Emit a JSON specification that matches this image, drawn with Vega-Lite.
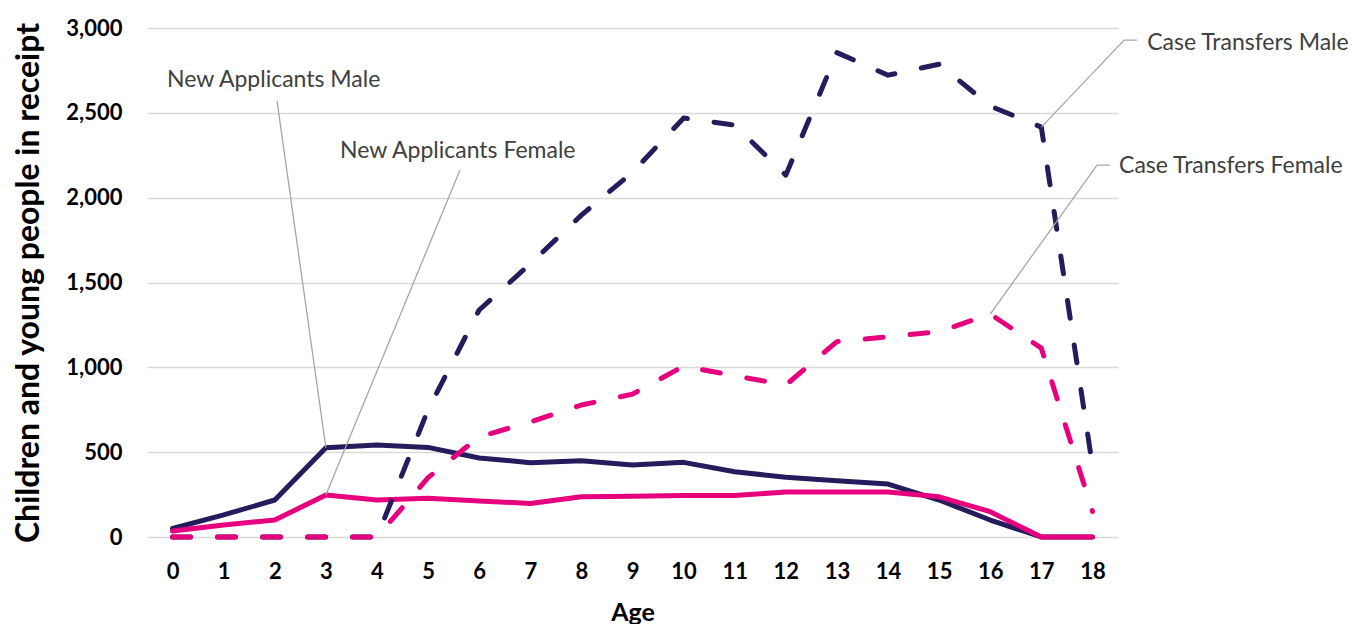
{
  "$schema": "https://vega.github.io/schema/vega-lite/v6.json",
  "autosize": "none",
  "width": 971,
  "height": 509,
  "padding": {"left": 147, "top": 28, "right": 234, "bottom": 87},
  "background": "white",
  "config": {
    "view": {"stroke": null},
    "font": "Lato"
  },
  "datasets": {
    "series": [
      {"age": 0, "series": "New Applicants Male", "value": 50},
      {"age": 1, "series": "New Applicants Male", "value": 130},
      {"age": 2, "series": "New Applicants Male", "value": 218},
      {"age": 3, "series": "New Applicants Male", "value": 526},
      {"age": 4, "series": "New Applicants Male", "value": 542},
      {"age": 5, "series": "New Applicants Male", "value": 528},
      {"age": 6, "series": "New Applicants Male", "value": 466},
      {"age": 7, "series": "New Applicants Male", "value": 438},
      {"age": 8, "series": "New Applicants Male", "value": 450},
      {"age": 9, "series": "New Applicants Male", "value": 424},
      {"age": 10, "series": "New Applicants Male", "value": 440},
      {"age": 11, "series": "New Applicants Male", "value": 385},
      {"age": 12, "series": "New Applicants Male", "value": 352},
      {"age": 13, "series": "New Applicants Male", "value": 332},
      {"age": 14, "series": "New Applicants Male", "value": 312},
      {"age": 15, "series": "New Applicants Male", "value": 218},
      {"age": 16, "series": "New Applicants Male", "value": 100},
      {"age": 17, "series": "New Applicants Male", "value": 0},
      {"age": 18, "series": "New Applicants Male", "value": 0},
      {"age": 0, "series": "New Applicants Female", "value": 35},
      {"age": 1, "series": "New Applicants Female", "value": 71},
      {"age": 2, "series": "New Applicants Female", "value": 100},
      {"age": 3, "series": "New Applicants Female", "value": 247},
      {"age": 4, "series": "New Applicants Female", "value": 218},
      {"age": 5, "series": "New Applicants Female", "value": 228},
      {"age": 6, "series": "New Applicants Female", "value": 212},
      {"age": 7, "series": "New Applicants Female", "value": 198},
      {"age": 8, "series": "New Applicants Female", "value": 237},
      {"age": 9, "series": "New Applicants Female", "value": 240},
      {"age": 10, "series": "New Applicants Female", "value": 245},
      {"age": 11, "series": "New Applicants Female", "value": 245},
      {"age": 12, "series": "New Applicants Female", "value": 265},
      {"age": 13, "series": "New Applicants Female", "value": 265},
      {"age": 14, "series": "New Applicants Female", "value": 265},
      {"age": 15, "series": "New Applicants Female", "value": 237},
      {"age": 16, "series": "New Applicants Female", "value": 149},
      {"age": 17, "series": "New Applicants Female", "value": 0},
      {"age": 18, "series": "New Applicants Female", "value": 0},
      {"age": 0, "series": "Case Transfers Male", "value": 0},
      {"age": 1, "series": "Case Transfers Male", "value": 0},
      {"age": 2, "series": "Case Transfers Male", "value": 0},
      {"age": 3, "series": "Case Transfers Male", "value": 0},
      {"age": 4, "series": "Case Transfers Male", "value": 0},
      {"age": 5, "series": "Case Transfers Male", "value": 750},
      {"age": 6, "series": "Case Transfers Male", "value": 1338},
      {"age": 7, "series": "Case Transfers Male", "value": 1610},
      {"age": 8, "series": "Case Transfers Male", "value": 1897},
      {"age": 9, "series": "Case Transfers Male", "value": 2150},
      {"age": 10, "series": "Case Transfers Male", "value": 2469},
      {"age": 11, "series": "Case Transfers Male", "value": 2428},
      {"age": 12, "series": "Case Transfers Male", "value": 2133},
      {"age": 13, "series": "Case Transfers Male", "value": 2855},
      {"age": 14, "series": "Case Transfers Male", "value": 2722},
      {"age": 15, "series": "Case Transfers Male", "value": 2787},
      {"age": 16, "series": "Case Transfers Male", "value": 2540},
      {"age": 17, "series": "Case Transfers Male", "value": 2416},
      {"age": 18, "series": "Case Transfers Male", "value": 420},
      {"age": 0, "series": "Case Transfers Female", "value": 0},
      {"age": 1, "series": "Case Transfers Female", "value": 0},
      {"age": 2, "series": "Case Transfers Female", "value": 0},
      {"age": 3, "series": "Case Transfers Female", "value": 0},
      {"age": 4, "series": "Case Transfers Female", "value": 0},
      {"age": 5, "series": "Case Transfers Female", "value": 350},
      {"age": 6, "series": "Case Transfers Female", "value": 590},
      {"age": 7, "series": "Case Transfers Female", "value": 678},
      {"age": 8, "series": "Case Transfers Female", "value": 778},
      {"age": 9, "series": "Case Transfers Female", "value": 842},
      {"age": 10, "series": "Case Transfers Female", "value": 1007},
      {"age": 11, "series": "Case Transfers Female", "value": 950},
      {"age": 12, "series": "Case Transfers Female", "value": 896},
      {"age": 13, "series": "Case Transfers Female", "value": 1151},
      {"age": 14, "series": "Case Transfers Female", "value": 1180},
      {"age": 15, "series": "Case Transfers Female", "value": 1210},
      {"age": 16, "series": "Case Transfers Female", "value": 1314},
      {"age": 17, "series": "Case Transfers Female", "value": 1113},
      {"age": 18, "series": "Case Transfers Female", "value": 150}
    ],
    "leaders": [
      {"id": "NAM", "ord": 0, "x": 2.044, "y": 2570},
      {"id": "NAM", "ord": 1, "x": 3, "y": 526},
      {"id": "NAF", "ord": 0, "x": 5.625, "y": 2163},
      {"id": "NAF", "ord": 1, "x": 3, "y": 247},
      {"id": "CTM", "ord": 0, "x": 17, "y": 2416},
      {"id": "CTM", "ord": 1, "x": 18.62, "y": 2929},
      {"id": "CTM", "ord": 2, "x": 18.87, "y": 2929},
      {"id": "CTF", "ord": 0, "x": 16, "y": 1314},
      {"id": "CTF", "ord": 1, "x": 18.09, "y": 2192},
      {"id": "CTF", "ord": 2, "x": 18.34, "y": 2192}
    ],
    "labels": [
      {"label": "New Applicants Male", "x": -0.109, "y": 2693},
      {"label": "New Applicants Female", "x": 3.277, "y": 2275},
      {"label": "Case Transfers Male", "x": 19.07, "y": 2912},
      {"label": "Case Transfers Female", "x": 18.52, "y": 2187}
    ]
  },
  "layer": [
    {
      "data": {"name": "series"},
      "transform": [{"filter": "datum.series === 'New Applicants Male'"}],
      "mark": {"type": "line", "color": "#241c5c", "strokeWidth": 5, "strokeJoin": "round", "strokeCap": "round"},
      "encoding": {
        "x": {
          "field": "age", "type": "quantitative",
          "scale": {"domain": [-0.5, 18.5], "nice": false, "zero": false},
          "axis": {
            "values": [0,1,2,3,4,5,6,7,8,9,10,11,12,13,14,15,16,17,18],
            "grid": false, "domain": false, "ticks": false,
            "labelFont": "Lato", "labelFontSize": 22, "labelFontWeight": "bold", "labelColor": "#000000",
            "labelPadding": 24,
            "title": "Age", "titleFont": "Lato", "titleFontSize": 25, "titleFontWeight": "bold", "titleColor": "#000000",
            "titlePadding": 18
          }
        },
        "y": {
          "field": "value", "type": "quantitative",
          "scale": {"domain": [0, 3000], "nice": false},
          "axis": {
            "values": [0, 500, 1000, 1500, 2000, 2500, 3000],
            "format": ",.0f",
            "grid": true, "gridColor": "#d9d9d9", "gridWidth": 1.5,
            "domain": false, "ticks": false,
            "labelFont": "Lato", "labelFontSize": 22, "labelFontWeight": "bold", "labelColor": "#000000",
            "labelPadding": 25,
            "title": "Children and young people in receipt", "titleFont": "Lato", "titleFontSize": 32, "titleFontWeight": "bold", "titleColor": "#000000",
            "titlePadding": 20
          }
        }
      }
    },
    {
      "data": {"name": "series"},
      "transform": [{"filter": "datum.series === 'New Applicants Female'"}],
      "mark": {"type": "line", "color": "#e6007e", "strokeWidth": 5, "strokeJoin": "round", "strokeCap": "round"},
      "encoding": {
        "x": {"field": "age", "type": "quantitative"},
        "y": {"field": "value", "type": "quantitative"}
      }
    },
    {
      "data": {"name": "series"},
      "transform": [{"filter": "datum.series === 'Case Transfers Male'"}],
      "mark": {"type": "line", "color": "#241c5c", "strokeWidth": 5, "strokeJoin": "round", "strokeCap": "round", "strokeDash": [18, 27]},
      "encoding": {
        "x": {"field": "age", "type": "quantitative"},
        "y": {"field": "value", "type": "quantitative"}
      }
    },
    {
      "data": {"name": "series"},
      "transform": [{"filter": "datum.series === 'Case Transfers Female'"}],
      "mark": {"type": "line", "color": "#e6007e", "strokeWidth": 5, "strokeJoin": "round", "strokeCap": "round", "strokeDash": [18, 27]},
      "encoding": {
        "x": {"field": "age", "type": "quantitative"},
        "y": {"field": "value", "type": "quantitative"}
      }
    },
    {
      "data": {"name": "leaders"},
      "mark": {"type": "line", "color": "#a6a6a6", "strokeWidth": 1.3},
      "encoding": {
        "x": {"field": "x", "type": "quantitative"},
        "y": {"field": "y", "type": "quantitative"},
        "detail": {"field": "id"},
        "order": {"field": "ord", "type": "quantitative"}
      }
    },
    {
      "data": {"name": "labels"},
      "mark": {"type": "text", "align": "left", "baseline": "middle", "font": "Lato", "fontSize": 23, "color": "#404040"},
      "encoding": {
        "x": {"field": "x", "type": "quantitative"},
        "y": {"field": "y", "type": "quantitative"},
        "text": {"field": "label"}
      }
    }
  ]
}
